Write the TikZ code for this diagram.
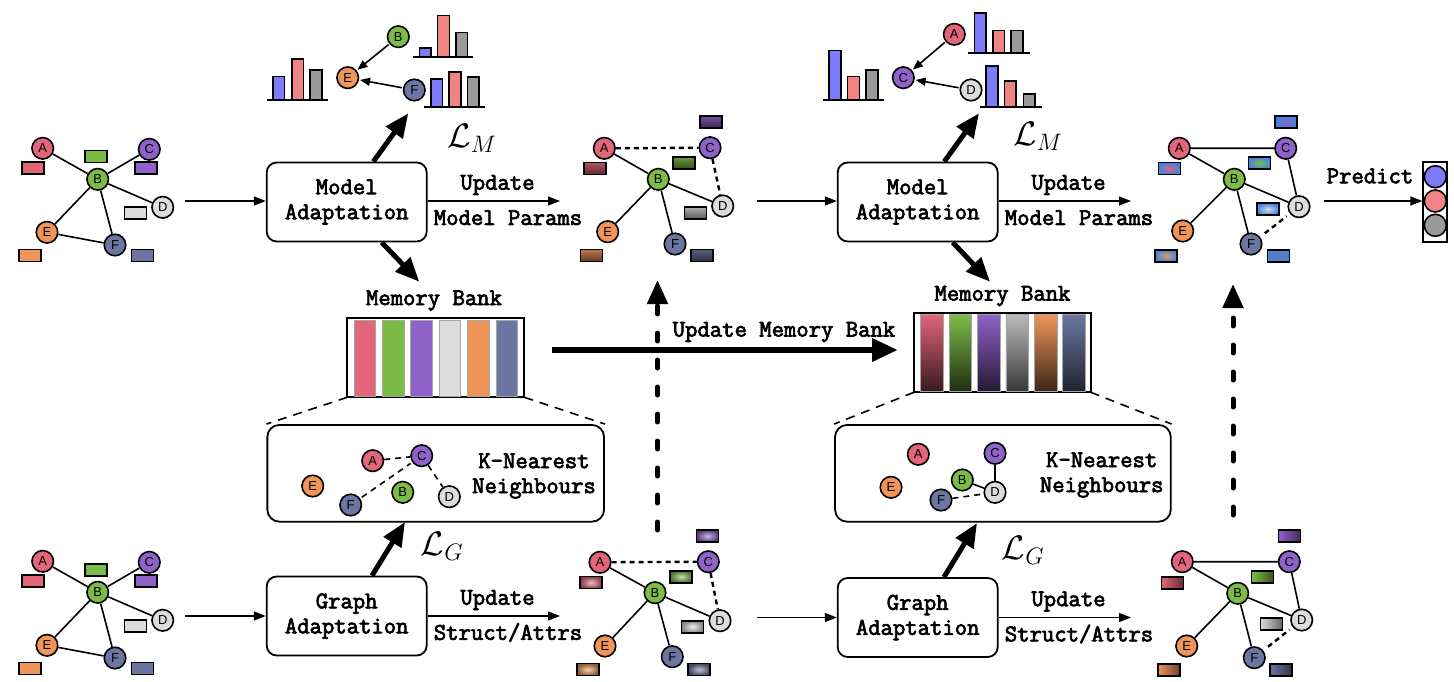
\RequirePackage{fix-cm}
\documentclass[tikz,border=0pt]{standalone}
\usepackage{fontspec}
\newfontfamily\labf{Liberation Sans}
\newfontfamily\cbtt[FakeBold=3]{Latin Modern Mono}
\usetikzlibrary{arrows.meta,shadings}
\definecolor{cA}{HTML}{E2657A}
\definecolor{cB}{HTML}{7DBB48}
\definecolor{cC}{HTML}{8F62C9}
\definecolor{cD}{HTML}{DCDCDC}
\definecolor{cE}{HTML}{F0955A}
\definecolor{cF}{HTML}{6B77A1}
\definecolor{hB}{HTML}{7B7BFB}
\definecolor{hR}{HTML}{F08482}
\definecolor{hG}{HTML}{9A9A9A}
\definecolor{tb}{HTML}{3F85E0}
\newcommand{\mytt}{\cbtt\fontsize{24}{25}\selectfont}
\newcommand{\mylab}{\labf\fontsize{13}{13}\selectfont}
\newcommand{\mymath}{\fontsize{34}{38}\selectfont}
\begin{document}
\begin{tikzpicture}[x=1pt,y=-1pt,
  gn/.style={circle,draw,line width=1.6pt,minimum size=21.5pt,inner sep=0pt,fill=#1,font=\mylab},
  rc/.style={draw,line width=1.6pt,minimum width=22pt,minimum height=12pt,inner sep=0pt,fill=#1},
  rcv/.style={draw,line width=1.6pt,minimum width=22pt,minimum height=12pt,inner sep=0pt,top color=#1!80!black,bottom color=#1!40!black},
  rcb/.style={draw,line width=1.6pt,minimum width=22pt,minimum height=12pt,inner sep=0pt,inner color=#1,outer color=tb},
  rcr/.style={draw,line width=1.6pt,minimum width=22pt,minimum height=12pt,inner sep=0pt,inner color=#1!45!white,outer color=#1!60!black},
  rch/.style={draw,line width=1.6pt,minimum width=22pt,minimum height=12pt,inner sep=0pt,left color=#1,right color=#1!45!black},
  edge/.style={line width=1.6pt},
  dedge/.style={line width=2.4pt,dash pattern=on 5pt off 4pt},
  kedge/.style={line width=1.6pt,dash pattern=on 6pt off 5pt},
  box/.style={draw,rounded corners=10pt,line width=1.8pt,minimum width=160pt,minimum height=79pt,align=center,font=\mytt},
  kbox/.style={draw,rounded corners=12pt,line width=1.8pt,minimum height=96.7pt},
  txt/.style={font=\mytt,align=center,inner sep=0pt},
  tarr/.style={line width=1.3pt,-{Triangle[length=12pt,width=9pt]}},
  harr/.style={line width=1.6pt,-{Triangle[length=10pt,width=8pt]},shorten >=1pt,shorten <=1pt},
  barr/.style={line width=5pt,-{Triangle[length=24pt,width=20pt]}},
  darr/.style={line width=5pt,dash pattern=on 8pt off 19pt,line cap=round,-{Triangle[length=24pt,width=20pt]}},
  bar/.style={draw,line width=1.6pt},
  base/.style={line width=2pt},
  mbar/.style={draw=gray!70,line width=0.6pt},
  frame/.style={draw,line width=1.8pt},
  mdash/.style={line width=1.6pt,dash pattern=on 9pt off 7pt}
]
\useasboundingbox (0,0) rectangle (1454,682);

% ---------- Graph 1 (top left) ----------
\begin{scope}
\node[rc=cA] (g1a) at (33,167.8) {};
\node[rc=cB] (g1b) at (96,156.7) {};
\node[rc=cC] (g1c) at (146.2,167.8) {};
\node[rc=cD] (g1d) at (135.3,212.8) {};
\node[rc=cE] (g1e) at (30,255.5) {};
\node[rc=cF] (g1f) at (142.3,255.5) {};
\node[gn=cA] (g1A) at (42.7,148.3) {A};
\node[gn=cB] (g1B) at (97.7,179.3) {B};
\node[gn=cC] (g1C) at (149.3,149.3) {C};
\node[gn=cD] (g1D) at (162.7,207.3) {D};
\node[gn=cE] (g1E) at (47,232.3) {E};
\node[gn=cF] (g1F) at (115,245) {F};
\draw[edge] (g1A)--(g1B) (g1C)--(g1B) (g1B)--(g1D) (g1B)--(g1E) (g1B)--(g1F) (g1E)--(g1F);
\end{scope}

% ---------- Graph 4 (bottom left) ----------
\begin{scope}[yshift=-413pt]
\node[rc=cA] (g4a) at (33,167.8) {};
\node[rc=cB] (g4b) at (96,156.7) {};
\node[rc=cC] (g4c) at (146.2,167.8) {};
\node[rc=cD] (g4d) at (135.3,212.8) {};
\node[rc=cE] (g4e) at (30,255.5) {};
\node[rc=cF] (g4f) at (142.3,255.5) {};
\node[gn=cA] (g4A) at (42.7,148.3) {A};
\node[gn=cB] (g4B) at (97.7,179.3) {B};
\node[gn=cC] (g4C) at (149.3,149.3) {C};
\node[gn=cD] (g4D) at (162.7,207.3) {D};
\node[gn=cE] (g4E) at (47,232.3) {E};
\node[gn=cF] (g4F) at (115,245) {F};
\draw[edge] (g4A)--(g4B) (g4C)--(g4B) (g4B)--(g4D) (g4B)--(g4E) (g4B)--(g4F) (g4E)--(g4F);
\end{scope}

% ---------- Graph 2 (top middle) ----------
\node[rcv=cC] (g2c) at (710.8,122.2) {};
\node[rcv=cA] (g2a) at (594.7,168.7) {};
\node[rcv=cB] (g2b) at (683.8,163.3) {};
\node[rcv=cD] (g2d) at (695.5,212.8) {};
\node[rcv=cE] (g2e) at (591.3,255.3) {};
\node[rcv=cF] (g2f) at (702.2,255.3) {};
\node[gn=cA] (g2A) at (604.3,148.3) {A};
\node[gn=cB] (g2B) at (658.3,179.3) {B};
\node[gn=cC] (g2C) at (710,147.7) {C};
\node[gn=cD] (g2D) at (722.7,206) {D};
\node[gn=cE] (g2E) at (607.7,231.7) {E};
\node[gn=cF] (g2F) at (675,244) {F};
\draw[edge] (g2A)--(g2B) (g2B)--(g2D) (g2B)--(g2E) (g2B)--(g2F);
\draw[dedge] (g2A)--(g2C) (g2C)--(g2D);

% ---------- Graph 5 (bottom middle) ----------
\node[rcr=cC] (g5c) at (707.5,536) {};
\node[rcr=cA] (g5a) at (591,582.5) {};
\node[rcr=cB] (g5b) at (681.2,576.7) {};
\node[rcr=cD] (g5d) at (692.5,626.7) {};
\node[rcr=cE] (g5e) at (587.7,669.5) {};
\node[rcr=cF] (g5f) at (699.2,669.5) {};
\node[gn=cA] (g5A) at (600,562.3) {A};
\node[gn=cB] (g5B) at (655,592.7) {B};
\node[gn=cC] (g5C) at (708.3,561.7) {C};
\node[gn=cD] (g5D) at (720,620.7) {D};
\node[gn=cE] (g5E) at (605,646) {E};
\node[gn=cF] (g5F) at (672.3,656.7) {F};
\draw[edge] (g5A)--(g5B) (g5B)--(g5D) (g5B)--(g5E) (g5B)--(g5F);
\draw[dedge] (g5A)--(g5C) (g5C)--(g5D);

% ---------- Graph 3 (top right) ----------
\node[rcb=cC] (g3c) at (1286.2,122.2) {};
\node[rcb=cA] (g3a) at (1169.5,168.7) {};
\node[rcb=cB] (g3b) at (1259.5,163) {};
\node[rcb=cD] (g3d) at (1267.8,209.2) {};
\node[rcb=cE] (g3e) at (1166.2,255.7) {};
\node[rcb=cF] (g3f) at (1278.3,255.7) {};
\node[gn=cA] (g3A) at (1179.3,148.3) {A};
\node[gn=cB] (g3B) at (1234.3,179.3) {B};
\node[gn=cC] (g3C) at (1285.7,148.3) {C};
\node[gn=cD] (g3D) at (1299,206.7) {D};
\node[gn=cE] (g3E) at (1182.7,231) {E};
\node[gn=cF] (g3F) at (1251,244) {F};
\draw[edge] (g3A)--(g3C) (g3C)--(g3D) (g3A)--(g3B) (g3B)--(g3D) (g3B)--(g3E) (g3B)--(g3F);
\draw[dedge,shorten <=6pt,shorten >=4pt] (g3F)--(g3D);

% ---------- Graph 6 (bottom right) ----------
\node[rch=cC] (g6c) at (1289.5,536) {};
\node[rch=cA] (g6a) at (1172.5,582.7) {};
\node[rch=cB] (g6b) at (1262.5,576.7) {};
\node[rch=cD] (g6d) at (1271.3,623.7) {};
\node[rch=cE] (g6e) at (1169,669.7) {};
\node[rch=cF] (g6f) at (1281,669.7) {};
\node[gn=cA] (g6A) at (1182.3,561.7) {A};
\node[gn=cB] (g6B) at (1237.7,593.3) {B};
\node[gn=cC] (g6C) at (1289.3,561.7) {C};
\node[gn=cD] (g6D) at (1301.7,620) {D};
\node[gn=cE] (g6E) at (1186.7,646) {E};
\node[gn=cF] (g6F) at (1254.3,657.7) {F};
\draw[edge] (g6A)--(g6C) (g6C)--(g6D) (g6A)--(g6B) (g6B)--(g6D) (g6B)--(g6E) (g6B)--(g6F);
\draw[dedge,shorten <=6pt,shorten >=4pt] (g6F)--(g6D);

% ---------- Boxes ----------
\node[box] (ma1) at (346.7,202) {Model\\Adaptation};
\node[box] (ma2) at (917.7,202) {Model\\Adaptation};
\node[box] (ga1) at (346.7,616) {Graph\\Adaptation};
\node[box] (ga2) at (917.7,617.5) {Graph\\Adaptation};

% inputs to boxes
\coordinate (i1) at (185,201);
\coordinate (i2) at (757,201);
\coordinate (i4) at (185,616);
\coordinate (i5) at (757,617.5);
\draw[tarr] (i1) -- (ma1.west|-i1);
\draw[tarr] (i2) -- (ma2.west|-i2);
\draw[tarr] (i4) -- (ga1.west|-i4);
\draw[tarr] (i5) -- (ga2.west|-i5);

% update arrows
\coordinate (u1) at (560,201);
\coordinate (u2) at (1131,201);
\coordinate (u4) at (560,616);
\coordinate (u5) at (1131,617.5);
\draw[tarr] (ma1.east|-u1) -- (u1);
\draw[tarr] (ma2.east|-u2) -- (u2);
\draw[tarr] (ga1.east|-u4) -- (u4);
\draw[tarr] (ga2.east|-u5) -- (u5);
\node[txt] (t1a) at (497.5,185) {Update};
\node[txt] (t1b) at (508,217.7) {Model Params};
\node[txt] (t2a) at (1068.5,185) {Update};
\node[txt] (t2b) at (1079,217.7) {Model Params};
\node[txt] (t4a) at (497.5,600) {Update};
\node[txt] (t4b) at (508,632.5) {Struct/Attrs};
\node[txt] (t5a) at (1068.5,601.5) {Update};
\node[txt] (t5b) at (1079,634) {Struct/Attrs};

% ---------- Histograms 1 ----------
\node[gn=cB] (h1B) at (398.3,36.7) {B};
\node[gn=cE] (h1E) at (347.7,77.7) {E};
\node[gn=cF] (h1F) at (414.3,90) {F};
\draw[harr] (h1B) -- (h1E);
\draw[harr] (h1F) -- (h1E);
\draw[bar,fill=hB] (272.7,100) rectangle (284.3,76.7);
\draw[bar,fill=hR] (291.7,100) rectangle (303.3,59.3);
\draw[bar,fill=hG] (310,100) rectangle (321.7,70);
\draw[base] (266.7,100) -- (328.3,100);
\draw[bar,fill=hB] (419.3,56.7) rectangle (430.7,48.3);
\draw[bar,fill=hR] (437.3,56.7) rectangle (449.3,15.7);
\draw[bar,fill=hG] (455.7,56.7) rectangle (467.3,32.7);
\draw[base] (413.3,56.7) -- (473.3,56.7);
\draw[bar,fill=hB] (430.7,107.3) rectangle (442.3,79.3);
\draw[bar,fill=hR] (449,107.3) rectangle (460.7,72.3);
\draw[bar,fill=hG] (467.3,107.3) rectangle (479,77.3);
\draw[base] (424.3,107.3) -- (485,107.3);
\node (LM1) at (472,138) {\mymath$\mathcal{L}_M$};

% ---------- Histograms 2 ----------
\node[gn=cA] (h2A) at (954.3,34.3) {A};
\node[gn=cC] (h2C) at (903.3,77.7) {C};
\node[gn=cD] (h2D) at (971,90) {D};
\draw[harr] (h2A) -- (h2C);
\draw[harr] (h2D) -- (h2C);
\draw[bar,fill=hB] (829,100) rectangle (841,50.7);
\draw[bar,fill=hR] (847.3,100) rectangle (859.3,76.7);
\draw[bar,fill=hG] (865.7,100) rectangle (877.7,70);
\draw[base] (823.3,100) -- (884,100);
\draw[bar,fill=hB] (974.3,53.3) rectangle (986,13.3);
\draw[bar,fill=hR] (992.7,53.3) rectangle (1004.3,30.7);
\draw[bar,fill=hG] (1011,53.3) rectangle (1022.7,30.7);
\draw[base] (968.3,53.3) -- (1030,53.3);
\draw[bar,fill=hB] (985.7,107.3) rectangle (997.7,66);
\draw[bar,fill=hR] (1004.3,107.3) rectangle (1016,81);
\draw[bar,fill=hG] (1023.3,107.3) rectangle (1035,94);
\draw[base] (980,107.3) -- (1041.7,107.3);
\node (LM2) at (1038,136) {\mymath$\mathcal{L}_M$};

% thick arrows from model adaptation
\coordinate (m1u) at (408.3,113.3);
\coordinate (m1d) at (419.3,281.7);
\coordinate (m2u) at (979,113.3);
\coordinate (m2d) at (990,281.7);
\draw[barr] ([xshift=26.6pt]ma1.north) -- (m1u);
\draw[barr] ([xshift=35pt]ma1.south) -- (m1d);
\draw[barr] ([xshift=26.6pt]ma2.north) -- (m2u);
\draw[barr] ([xshift=35pt]ma2.south) -- (m2d);

% ---------- Memory bank 1 ----------
\node[txt] (mb1t) at (434,300.5) {Memory Bank};
\draw[frame] (347.3,318.3) rectangle (524.3,397.3);
\draw[mbar,fill=cA] (354,320) rectangle (375.7,396.5);
\draw[mbar,fill=cB] (382.3,320) rectangle (404,396.5);
\draw[mbar,fill=cC] (410.7,320) rectangle (432.4,396.5);
\draw[mbar,fill=cD] (439,320) rectangle (460.7,396.5);
\draw[mbar,fill=cE] (467.4,320) rectangle (489.1,396.5);
\draw[mbar,fill=cF] (495.8,320) rectangle (517.5,396.5);
\coordinate (mb1l) at (347.3,397.3);
\coordinate (mb1r) at (524.3,397.3);

% ---------- Memory bank 2 ----------
\node[txt] (mb2t) at (1002.5,296) {Memory Bank};
\draw[frame] (914,313.3) rectangle (1090.7,392.3);
\draw[mbar,top color=cA,bottom color=cA!25!black] (920.7,314.5) rectangle (943.3,391.5);
\draw[mbar,top color=cB,bottom color=cB!25!black] (949.1,314.5) rectangle (971.7,391.5);
\draw[mbar,top color=cC,bottom color=cC!25!black] (977.5,314.5) rectangle (1000.1,391.5);
\draw[mbar,top color=cD!85!black,bottom color=cD!25!black] (1005.9,314.5) rectangle (1028.5,391.5);
\draw[mbar,top color=cE,bottom color=cE!25!black] (1034.3,314.5) rectangle (1056.9,391.5);
\draw[mbar,top color=cF,bottom color=cF!30!black] (1062.7,314.5) rectangle (1085.3,391.5);
\coordinate (mb2l) at (914,392.3);
\coordinate (mb2r) at (1090.7,392.3);

% update memory bank arrow
\coordinate (umb1) at (552,350);
\coordinate (umb2) at (898,350);
\draw[line width=6.5pt,-{Triangle[length=26pt,width=22pt]}] (umb1) -- (umb2);
\node[txt] (umbt) at (784,332) {Update Memory Bank};

% ---------- KNN box 1 ----------
\node[kbox,minimum width=336.7pt] (k1) at (435.7,473.3) {};
\draw[mdash] (mb1l) -- (k1.north west);
\draw[mdash] (mb1r) -- (k1.north east);
\node[gn=cA] (k1A) at (372.7,460.7) {A};
\node[gn=cC] (k1C) at (421.7,455.7) {C};
\node[gn=cE] (k1E) at (312.7,486) {E};
\node[gn=cF] (k1F) at (350.7,505) {F};
\node[gn=cB] (k1B) at (402.7,492.3) {B};
\node[gn=cD] (k1D) at (449.3,496.7) {D};
\draw[kedge] (k1A) -- (k1C);
\draw[kedge,shorten <=2pt,shorten >=2pt] (k1F) -- (k1C);
\draw[kedge] (k1C) -- (k1D);
\node[txt] (k1t) at (534,476) {K-Nearest\\Neighbours};

% ---------- KNN box 2 ----------
\node[kbox,minimum width=335.7pt] (k2) at (1002.9,473.3) {};
\draw[mdash] (mb2l) -- (k2.north west);
\draw[mdash] (mb2r) -- (k2.north east);
\node[gn=cA] (k2A) at (918.3,454.3) {A};
\node[gn=cC] (k2C) at (995,453.3) {C};
\node[gn=cE] (k2E) at (891,487.3) {E};
\node[gn=cB] (k2B) at (962.3,480) {B};
\node[gn=cD] (k2D) at (995,492.3) {D};
\node[gn=cF] (k2F) at (941,500) {F};
\draw[edge] (k2C) -- (k2D);
\draw[edge] (k2B) -- (k2D);
\draw[kedge] (k2F) -- (k2D);
\node[txt] (k2t) at (1101.7,475) {K-Nearest\\Neighbours};

% thick arrows from graph adaptation
\coordinate (g1u) at (405,522);
\coordinate (g2u) at (977,523);
\draw[barr] ([xshift=25.3pt]ga1.north) -- (g1u);
\draw[barr] ([xshift=26.3pt]ga2.north) -- (g2u);
\node (LG1) at (442,546) {\mymath$\mathcal{L}_G$};
\node (LG2) at (1023,550) {\mymath$\mathcal{L}_G$};

% dashed vertical arrows
\coordinate (v1s) at (657.5,530);
\coordinate (v1e) at (657.5,280);
\coordinate (v2s) at (1233,515);
\coordinate (v2e) at (1233,284);
\draw[darr] (v1s) -- (v1e);
\draw[darr] (v2s) -- (v2e);

% ---------- Predict ----------
\node[draw,line width=1.8pt,minimum width=24pt,minimum height=79.4pt,inner sep=0pt] (pc) at (1435.3,202) {};
\node[gn=hB,minimum size=22pt] (p1) at (1435.3,176.7) {};
\node[gn=hR,minimum size=22pt] (p2) at (1435.3,201) {};
\node[gn=hG,minimum size=22pt] (p3) at (1435.3,225.3) {};
\coordinate (pr) at (1324,201);
\draw[tarr] (pr) -- (pc.west|-pr);
\node[txt] (prt) at (1370,176) {Predict};
\end{tikzpicture}
\end{document}
